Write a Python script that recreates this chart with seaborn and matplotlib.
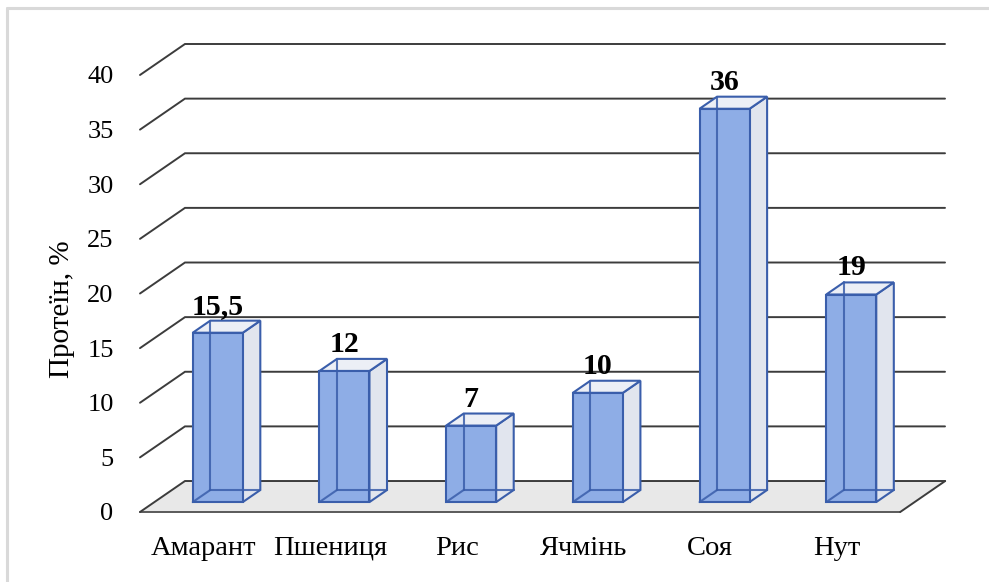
import matplotlib
matplotlib.use("Agg")
import matplotlib.pyplot as plt
import matplotlib.transforms as mtransforms
from matplotlib.patches import Polygon
from matplotlib.lines import Line2D
import pandas as pd
import seaborn as sns

categories = ["Амарант", "Пшениця", "Рис", "Ячмінь", "Соя", "Нут"]
protein = [15.5, 12, 7, 10, 36, 19]
value_labels = ["15,5", "12", "7", "10", "36", "19"]
y_ticks = [0, 5, 10, 15, 20, 25, 30, 35, 40]

sns.set_theme(style="white")
plt.rcParams["font.family"] = ["Liberation Serif", "DejaVu Serif"]

FRONT = "#8eade6"
SIDE = "#e1e5ee"
TOP = "#eceff6"
EDGE = "#3a5eab"
GRID = "#3c3c3c"

fig = plt.figure(figsize=(9.89, 5.82), dpi=100)
ax = fig.add_axes([140 / 989, 70 / 582, 805 / 989, 468 / 582])

# oblique depth of the plot box (data units) and bar depth placement
DX, DY = 0.355, 2.836
F0, F1 = 0.32, 0.71
W = 0.395
d = F1 - F0

df = pd.DataFrame({"Культура": categories, "Протеїн": protein})
sns.barplot(data=df, x="Культура", y="Протеїн", color=FRONT, saturation=1,
            width=W, edgecolor=EDGE, linewidth=1.5, ax=ax, zorder=4)

# push the front faces back into the box
shift = mtransforms.Affine2D().translate(F0 * DX, F0 * DY) + ax.transData
for p in ax.patches:
    p.set_transform(shift)

xmax = -0.5 + 805 / 126.7
ax.set_xlim(-0.5, xmax)
ax.set_ylim(0, 40 + DY)

# floor
ax.add_patch(Polygon([(-0.5, 0), (5.5, 0), (5.5 + DX, DY), (-0.5 + DX, DY)],
                     closed=True, facecolor="#e8e8e8", edgecolor="none", zorder=0))
ax.plot([-0.5, 5.5], [0, 0], color="#5a5a5a", lw=1.4, zorder=1, clip_on=False)
ax.plot([5.5, 5.5 + DX], [0, DY], color=GRID, lw=1.4, zorder=1, clip_on=False)

# gridlines on the side and back walls
for v in y_ticks:
    ax.plot([-0.5, -0.5 + DX, xmax], [v, v + DY, v + DY], color=GRID,
            lw=1.4, zorder=1, clip_on=False, solid_joinstyle="miter")

# side faces, tops and see-through edges of each column
for i, v in enumerate(protein):
    xl = i - W / 2 + F0 * DX
    xr = i + W / 2 + F0 * DX
    y0 = F0 * DY
    yt = y0 + v
    ddx, ddy = d * DX, d * DY
    ax.add_patch(Polygon([(xr, y0), (xr + ddx, y0 + ddy), (xr + ddx, yt + ddy), (xr, yt)],
                         closed=True, facecolor=SIDE, edgecolor=EDGE, lw=1.5, zorder=3))
    ax.add_patch(Polygon([(xl, yt), (xr, yt), (xr + ddx, yt + ddy), (xl + ddx, yt + ddy)],
                         closed=True, facecolor=TOP, edgecolor=EDGE, lw=1.5, zorder=3))
    ax.plot([xl + ddx, xl + ddx], [y0 + ddy, yt + ddy], color=EDGE, lw=1.5, alpha=0.85, zorder=5)
    ax.plot([xl + ddx, xr + ddx], [y0 + ddy, y0 + ddy], color=EDGE, lw=1.5, alpha=0.85, zorder=5)
    ax.plot([xl, xl + ddx], [y0, y0 + ddy], color=EDGE, lw=1.5, alpha=0.85, zorder=5)
    ax.annotate(value_labels[i], (i + F0 * DX, v + F1 * DY), xytext=(0, 5),
                textcoords="offset points", ha="center", va="baseline",
                fontsize=21.5, fontweight="bold", color="black", zorder=6)

ax.set_yticks(y_ticks)
ax.set_yticklabels([str(t) for t in y_ticks])
ax.set_xticks(range(len(categories)))
ax.set_xticklabels(categories)
ax.tick_params(axis="y", length=0, pad=19, labelsize=19, labelcolor="black")
ax.tick_params(axis="x", length=0, pad=17, labelsize=20.5, labelcolor="black")
ax.set_xlabel("")
ax.set_ylabel("")
for s in ax.spines.values():
    s.set_visible(False)
ax.grid(False)
ax.patch.set_alpha(0)

fig.text(62 / 989, 1 - 309 / 582, "Протеїн, %", rotation=90, ha="center",
         va="center", fontsize=21, color="black")

# chart frame
fig.add_artist(Line2D([6.5 / 989, 6.5 / 989], [0, 1 - 8 / 582], transform=fig.transFigure,
                      color="#d9d9d9", lw=2.2))
fig.add_artist(Line2D([6.5 / 989, 1], [1 - 8 / 582, 1 - 8 / 582], transform=fig.transFigure,
                      color="#d9d9d9", lw=2.2))

fig.savefig("out.png", dpi=100, facecolor="white")
